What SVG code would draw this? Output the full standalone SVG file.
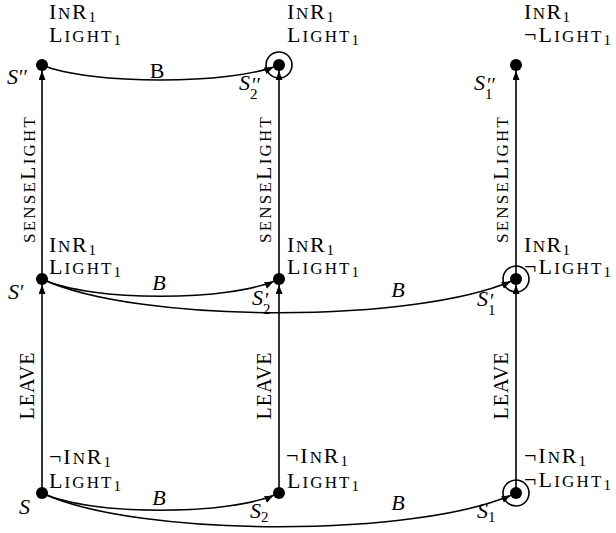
<svg xmlns="http://www.w3.org/2000/svg" width="616" height="533" viewBox="0 0 616 533">
<defs>
<style>
text{font-family:"Liberation Serif","Times New Roman",serif;font-size:22px;fill:#000}
.sc{font-size:17px}
.sub{font-size:15px;font-style:normal}
.pr{font-size:20px;font-style:normal}
.m{font-style:italic}
.vl{font-size:20px}
.dot{fill:#000}
.ring{fill:none;stroke:#000;stroke-width:1.6}
.e{fill:none;stroke:#000;stroke-width:1.6;marker-end:url(#ah)}
</style>
<marker id="ah" markerUnits="userSpaceOnUse" markerWidth="20" markerHeight="10" refX="15" refY="3.5" orient="auto">
<path d="M0,0 L9,3.5 L0,7 Z" fill="#000"/>
</marker>
</defs>
<rect width="616" height="533" fill="#fff"/>
<g id="connectors">
<path class="e" d="M42,493 L42,279"/>
<path class="e" d="M42,279 L42,65"/>
<path class="e" d="M279,493 L279,279"/>
<path class="e" d="M279,279 L279,65"/>
<path class="e" d="M516,493 L516,279"/>
<path class="e" d="M516,279 L516,65"/>
<path class="e" d="M42,65 C90,85 231,85 279,65"/>
<path class="e" d="M42,279 C90,302 231,302 279,279"/>
<path class="e" d="M42,279 C137,324 421,324 516,279"/>
<path class="e" d="M42,493 C90,516 231,516 279,493"/>
<path class="e" d="M42,493 C137,538 421,538 516,493"/>
<text x="157" y="78" text-anchor="middle">B</text>
<text class="m" x="159" y="290" text-anchor="middle">B</text>
<text class="m" x="398" y="297" text-anchor="middle">B</text>
<text class="m" x="159" y="505" text-anchor="middle">B</text>
<text class="m" x="398" y="510" text-anchor="middle">B</text>
<text transform="translate(35,180) rotate(-90)" text-anchor="middle" textLength="126"><tspan class="sc">SENSE</tspan>L<tspan class="sc">IGHT</tspan></text>
<text transform="translate(271,180) rotate(-90)" text-anchor="middle" textLength="126"><tspan class="sc">SENSE</tspan>L<tspan class="sc">IGHT</tspan></text>
<text transform="translate(508,180) rotate(-90)" text-anchor="middle" textLength="126"><tspan class="sc">SENSE</tspan>L<tspan class="sc">IGHT</tspan></text>
<text class="vl" transform="translate(34,386) rotate(-90)" text-anchor="middle" textLength="67">LEAVE</text>
<text class="vl" transform="translate(271,386) rotate(-90)" text-anchor="middle" textLength="67">LEAVE</text>
<text class="vl" transform="translate(508,386) rotate(-90)" text-anchor="middle" textLength="67">LEAVE</text>
</g>
<g id="S2pp">
<circle class="ring" cx="279" cy="65" r="13"/>
<circle class="dot" cx="279" cy="65" r="6"/>
<text x="287" y="19" textLength="47">I<tspan class="sc">N</tspan>R<tspan class="sub" dy="3">1</tspan></text>
<text x="287" y="42" textLength="72">L<tspan class="sc">IGHT</tspan><tspan class="sub" dy="3">1</tspan></text>
<text class="m" x="239" y="90">S<tspan class="pr" x="252" y="92">′′</tspan><tspan class="sub" x="250" y="99">2</tspan></text>
</g>
<g id="Spp">
<circle class="dot" cx="42" cy="65" r="6"/>
<text x="49" y="19" textLength="47">I<tspan class="sc">N</tspan>R<tspan class="sub" dy="3">1</tspan></text>
<text x="49" y="42" textLength="72">L<tspan class="sc">IGHT</tspan><tspan class="sub" dy="3">1</tspan></text>
<text class="m" x="7" y="84">S<tspan class="pr" dx="1">′′</tspan></text>
</g>
<g id="S1pp">
<circle class="dot" cx="516" cy="65" r="6"/>
<text x="524" y="19" textLength="46">I<tspan class="sc">N</tspan>R<tspan class="sub" dy="3">1</tspan></text>
<text x="524" y="42" textLength="87">¬L<tspan class="sc">IGHT</tspan><tspan class="sub" dy="3">1</tspan></text>
<text class="m" x="474" y="90">S<tspan class="pr" x="487" y="92">′′</tspan><tspan class="sub" x="485" y="99">1</tspan></text>
</g>
<g id="Sp">
<circle class="dot" cx="42" cy="279" r="6"/>
<text x="49" y="252" textLength="47">I<tspan class="sc">N</tspan>R<tspan class="sub" dy="3">1</tspan></text>
<text x="49" y="274" textLength="72">L<tspan class="sc">IGHT</tspan><tspan class="sub" dy="3">1</tspan></text>
<text class="m" x="8" y="299">S<tspan class="pr" dx="1">′</tspan></text>
</g>
<g id="S2p">
<circle class="dot" cx="279" cy="279" r="6"/>
<text x="287" y="252" textLength="47">I<tspan class="sc">N</tspan>R<tspan class="sub" dy="3">1</tspan></text>
<text x="287" y="274" textLength="72">L<tspan class="sc">IGHT</tspan><tspan class="sub" dy="3">1</tspan></text>
<text class="m" x="252" y="305">S<tspan class="pr" x="265" y="307">′</tspan><tspan class="sub" x="263" y="314">2</tspan></text>
</g>
<g id="S1p">
<circle class="ring" cx="516" cy="279" r="13"/>
<circle class="dot" cx="516" cy="279" r="6"/>
<text x="524" y="252" textLength="46">I<tspan class="sc">N</tspan>R<tspan class="sub" dy="3">1</tspan></text>
<text x="524" y="274" textLength="87">¬L<tspan class="sc">IGHT</tspan><tspan class="sub" dy="3">1</tspan></text>
<text class="m" x="477" y="306">S<tspan class="pr" x="490" y="308">′</tspan><tspan class="sub" x="488" y="315">1</tspan></text>
</g>
<g id="S">
<circle class="dot" cx="42" cy="493" r="6"/>
<text x="49" y="464" textLength="62">¬I<tspan class="sc">N</tspan>R<tspan class="sub" dy="3">1</tspan></text>
<text x="49" y="488" textLength="72">L<tspan class="sc">IGHT</tspan><tspan class="sub" dy="3">1</tspan></text>
<text class="m" x="19" y="514">S</text>
</g>
<g id="S2">
<circle class="dot" cx="279" cy="493" r="6"/>
<text x="286" y="463" textLength="62">¬I<tspan class="sc">N</tspan>R<tspan class="sub" dy="3">1</tspan></text>
<text x="287" y="488" textLength="72">L<tspan class="sc">IGHT</tspan><tspan class="sub" dy="3">1</tspan></text>
<text class="m" x="250" y="518">S<tspan class="sub" dy="4">2</tspan></text>
</g>
<g id="S1">
<circle class="ring" cx="516" cy="493" r="13"/>
<circle class="dot" cx="516" cy="493" r="6"/>
<text x="524" y="463" textLength="62">¬I<tspan class="sc">N</tspan>R<tspan class="sub" dy="3">1</tspan></text>
<text x="524" y="487" textLength="87">¬L<tspan class="sc">IGHT</tspan><tspan class="sub" dy="3">1</tspan></text>
<text class="m" x="477" y="518">S<tspan class="sub" dy="4">1</tspan></text>
</g>
</svg>
